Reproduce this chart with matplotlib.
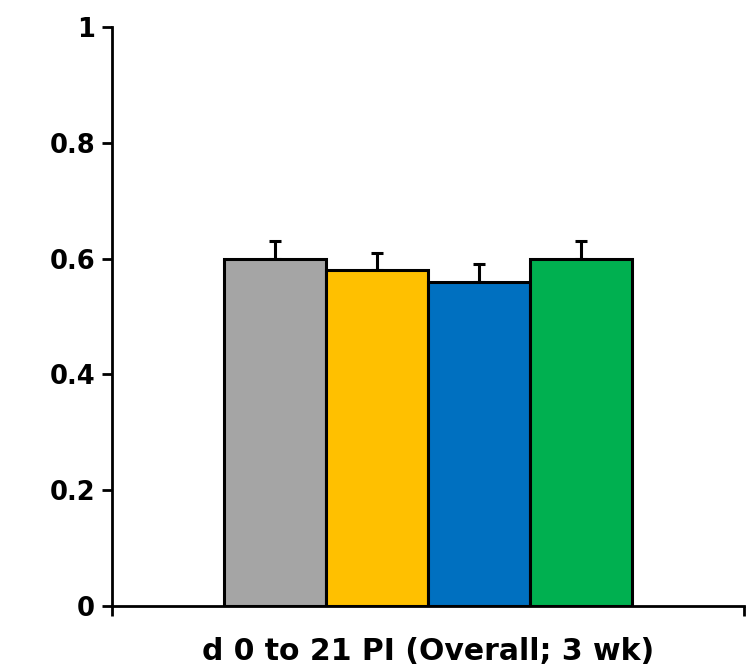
import matplotlib.pyplot as plt
import numpy as np

categories = ["d 0 to 21 PI (Overall; 3 wk)"]
series_names = ["Group 1", "Group 2", "Group 3", "Group 4"]
values = [0.60, 0.58, 0.56, 0.60]
errors = [0.03, 0.03, 0.03, 0.03]
colors = ["#A5A5A5", "#FFC000", "#0070C0", "#00B050"]
y_ticks = [0, 0.2, 0.4, 0.6, 0.8, 1]
y_tick_labels = ["0", "0.2", "0.4", "0.6", "0.8", "1"]

plt.rcParams["font.family"] = ["DejaVu Sans"]
plt.rcParams["font.weight"] = "bold"

fig = plt.figure(figsize=(7.46, 6.72), dpi=100)
ax = fig.add_axes([0.150, 0.098, 0.847, 0.862])

width = 0.1614
n = len(values)
offsets = (np.arange(n) - (n - 1) / 2) * width
for i in range(n):
    ax.bar(0.5 + offsets[i], values[i], width=width, color=colors[i],
           edgecolor="black", linewidth=2.2, label=series_names[i], zorder=2)
    ax.errorbar(0.5 + offsets[i], values[i], yerr=[[0], [errors[i]]],
                fmt="none", ecolor="black", elinewidth=2.2, capsize=4.5,
                capthick=2.2, zorder=1)

ax.set_xlim(0, 1)
ax.set_ylim(0, 1)
ax.set_yticks(y_ticks)
ax.set_yticklabels(y_tick_labels, fontsize=18.5, fontweight="bold")

ax.set_xticks([0.5])
ax.set_xticklabels(categories, fontsize=21.5, fontweight="bold")
ax.set_xticks([0, 1], minor=True)
ax.tick_params(axis="x", which="major", length=0, pad=22)
ax.tick_params(axis="x", which="minor", direction="out", length=7, width=2)
ax.tick_params(axis="y", direction="out", length=7, width=2, pad=5)

for side in ["top", "right"]:
    ax.spines[side].set_visible(False)
for side in ["left", "bottom"]:
    ax.spines[side].set_linewidth(2)

plt.savefig("out.png", dpi=100)
plt.close()
